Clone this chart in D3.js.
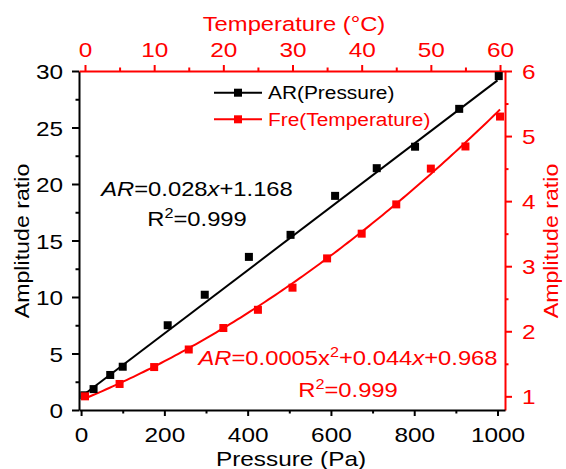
<!DOCTYPE html>
<html>
<head>
<meta charset="utf-8">
<script src="https://cdn.jsdelivr.net/npm/d3@7"></script>
<style>
body { margin: 0; background: #fff; }
text { font-family: "Liberation Sans", Arial, sans-serif; }
</style>
</head>
<body>
<svg id="chart" width="566" height="469"></svg>
<script>
// data
var pressure = [8, 30, 70, 100, 208, 297, 403, 503, 610, 710, 802, 908, 1003];
var arPressure = [1.3, 1.85, 3.1, 3.83, 7.5, 10.2, 13.55, 15.5, 18.95, 21.4, 23.3, 26.65, 29.55];
var temperature = [0, 5, 10, 15, 20, 25, 30, 35, 40, 45, 50, 55, 60];
var arTemperature = [1.0, 1.19, 1.45, 1.72, 2.05, 2.33, 2.67, 3.12, 3.50, 3.95, 4.50, 4.84, 5.30];

// fit coefficients printed on the chart
var linFit = [0.028, 1.168];          // slope, intercept
var quadFit = [0.0005, 0.044, 0.968]; // a, b, c

var pressureTicks = [0, 200, 400, 600, 800, 1000];
var pressureMinor = [100, 300, 500, 700, 900];
var tempTicks = [0, 10, 20, 30, 40, 50, 60];
var tempMinor = [5, 15, 25, 35, 45, 55];
var leftTicks = [0, 5, 10, 15, 20, 25, 30];
var leftMinor = [2.5, 7.5, 12.5, 17.5, 22.5, 27.5];
var rightTicks = [1, 2, 3, 4, 5, 6];
var rightMinor = [1.5, 2.5, 3.5, 4.5, 5.5];

var RED = "#ff0000";
var SX = 1.16; // the original font is wider than Arial

var svg = d3.select("#chart");
var pL = 79, pR = 505, pT = 71, pB = 410;

var x = d3.scaleLinear().domain([-5, 1018]).range([pL, pR]);
var xt = d3.scaleLinear().domain([-0.867, 60.72]).range([pL, pR]);
var y = d3.scaleLinear().domain([0, 30]).range([pB, pT]);
var yr = d3.scaleLinear().domain([0.79, 6]).range([pB, pT]);

var fmt = function(d) { return String(d); };

function styleAxis(g, color, dx, dy, anchor) {
    g.select(".domain").attr("stroke", color).attr("stroke-width", 2);
    g.selectAll(".tick line").attr("stroke", color).attr("stroke-width", 2);
    g.selectAll(".tick text")
	.attr("x", null).attr("y", null).attr("dy", null)
	.attr("fill", color)
	.style("font-size", "21px")
	.attr("text-anchor", anchor)
	.attr("transform", "translate(" + dx + "," + dy + ") scale(" + SX + ",1)");
}

function minor(axis, g, color) {
    g.call(axis.tickSize(3.5).tickFormat(""));
    g.select(".domain").remove();
    g.selectAll(".tick line").attr("stroke", color).attr("stroke-width", 2);
}

// left axis
var gl = svg.append("g").attr("transform", "translate(" + pL + ",0)");
minor(d3.axisLeft(y).tickValues(leftMinor), gl.append("g"), "#000");
var glm = gl.append("g").call(d3.axisLeft(y).tickValues(leftTicks).tickFormat(fmt).tickSize(7).tickSizeOuter(0));
styleAxis(glm, "#000", -16, 7.5, "end");

// top axis
var gt = svg.append("g").attr("transform", "translate(0," + pT + ")");
minor(d3.axisTop(xt).tickValues(tempMinor), gt.append("g"), RED);
var gtm = gt.append("g").call(d3.axisTop(xt).tickValues(tempTicks).tickFormat(fmt).tickSize(6).tickSizeOuter(0));
styleAxis(gtm, RED, 0, -14, "middle");

// right axis
var gr = svg.append("g").attr("transform", "translate(" + pR + ",0)");
minor(d3.axisRight(yr).tickValues(rightMinor), gr.append("g"), RED);
var grm = gr.append("g").call(d3.axisRight(yr).tickValues(rightTicks).tickFormat(fmt).tickSize(7).tickSizeOuter(0));
styleAxis(grm, RED, 17, 7.5, "start");

// bottom axis
var gb = svg.append("g").attr("transform", "translate(0," + pB + ")");
minor(d3.axisBottom(x).tickValues(pressureMinor), gb.append("g"), "#000");
var gbm = gb.append("g").call(d3.axisBottom(x).tickValues(pressureTicks).tickFormat(fmt).tickSize(6).tickSizeOuter(0));
styleAxis(gbm, "#000", 0, 31.7, "middle");

// axis titles
function title(txt, tx, ty, rot, color, fs) {
    svg.append("text")
	.attr("transform", "translate(" + tx + "," + ty + ")" + (rot ? " rotate(-90)" : "") + " scale(" + SX + ",1)")
	.attr("text-anchor", "middle")
	.attr("fill", color)
	.style("font-size", fs + "px")
	.text(txt);
}
title("Pressure (Pa)", 291, 465.5, false, "#000", 21);
title("Temperature (°C)", 294, 31, false, RED, 20.5);
title("Amplitude ratio", 29, 241, true, "#000", 20);
title("Amplitude ratio", 558, 241, true, RED, 20);

// fit curves
var line = d3.line();
svg.append("path")
    .attr("d", line([0, 1000].map(function(p) { return [x(p), y(linFit[0] * p + linFit[1])]; })))
    .attr("fill", "none").attr("stroke", "#000").attr("stroke-width", 2);

var tSteps = d3.range(0, 60.01, 0.5);
svg.append("path")
    .attr("d", line(tSteps.map(function(t) {
	return [xt(t), yr(quadFit[0] * t * t + quadFit[1] * t + quadFit[2])];
    })))
    .attr("fill", "none").attr("stroke", RED).attr("stroke-width", 2);

// markers
var ms = 8;
svg.append("g").selectAll("rect").data(pressure).enter()
    .append("rect")
    .attr("x", function(d) { return x(d) - ms / 2; })
    .attr("y", function(d, i) { return y(arPressure[i]) - ms / 2; })
    .attr("width", ms).attr("height", ms)
    .attr("fill", "#000");

svg.append("g").selectAll("rect").data(temperature).enter()
    .append("rect")
    .attr("x", function(d) { return xt(d) - ms / 2; })
    .attr("y", function(d, i) { return yr(arTemperature[i]) - ms / 2; })
    .attr("width", ms).attr("height", ms)
    .attr("fill", RED);

// legend
var legend = [{name: "AR(Pressure)", color: "#000", y: 92.7},
	      {name: "Fre(Temperature)", color: RED, y: 119.3}];
var lg = svg.append("g").selectAll("g").data(legend).enter().append("g");
lg.append("line")
    .attr("x1", 214).attr("x2", 262)
    .attr("y1", function(d) { return d.y; }).attr("y2", function(d) { return d.y; })
    .attr("stroke", function(d) { return d.color; }).attr("stroke-width", 2);
lg.append("rect")
    .attr("x", 238 - ms / 2).attr("y", function(d) { return d.y - ms / 2; })
    .attr("width", ms).attr("height", ms)
    .attr("fill", function(d) { return d.color; });
lg.append("text")
    .attr("transform", function(d) { return "translate(268," + (d.y + 6.5) + ") scale(" + SX + ",1)"; })
    .attr("fill", function(d) { return d.color; })
    .style("font-size", "18px")
    .text(function(d) { return d.name; });

// equations
function equation(parts, tx, ty, color) {
    var t = svg.append("text")
	.attr("transform", "translate(" + tx + "," + ty + ") scale(" + SX + ",1)")
	.attr("text-anchor", "middle")
	.attr("fill", color)
	.style("font-size", "20.5px");
    parts.forEach(function(p) {
	var s = t.append("tspan").text(p.t);
	if (p.i) s.style("font-style", "italic");
	if (p.sup) s.attr("dy", -8).style("font-size", "14px");
	if (p.down) s.attr("dy", 8);
    });
}
equation([{t: "AR", i: 1}, {t: "=0.028"}, {t: "x", i: 1}, {t: "+1.168"}], 197, 196, "#000");
equation([{t: "R"}, {t: "2", sup: 1}, {t: "=0.999", down: 1}], 197, 225.7, "#000");
equation([{t: "AR", i: 1}, {t: "=0.0005x"}, {t: "2", sup: 1}, {t: "+0.044", down: 1}, {t: "x", i: 1}, {t: "+0.968"}], 348, 365, RED);
equation([{t: "R"}, {t: "2", sup: 1}, {t: "=0.999", down: 1}], 348, 397, RED);
</script>
</body>
</html>
